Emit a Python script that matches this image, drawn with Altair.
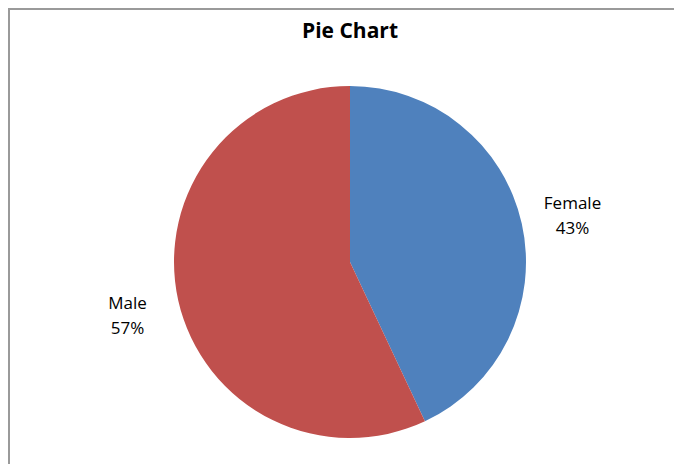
import altair as alt
import pandas as pd

categories = ["Female", "Male"]
values = [43, 57]
colors = ["#4F81BD", "#C0504D"]
chart_title = "Pie Chart"

df = pd.DataFrame({
    "category": categories,
    "value": values,
    "order": list(range(len(categories))),
})
df["label"] = [f"{c}\n{v}%" for c, v in zip(categories, values)]

W, H = 666, 456
CX, CY = 342, 254

base = alt.Chart(df).encode(
    theta=alt.Theta("value:Q", stack=True),
    order=alt.Order("order:Q"),
)

pie = base.mark_arc(radius=176, stroke=None).encode(
    color=alt.Color("category:N", scale=alt.Scale(domain=categories, range=colors), legend=None),
    x=alt.value(CX),
    y=alt.value(CY),
)

labels = base.mark_text(
    radius=228, font="Open Sans", fontSize=17, color="#000000",
    lineBreak="\n", baseline="middle", align="center", dy=-8, lineHeight=25,
).encode(
    text="label:N",
    x=alt.value(CX),
    y=alt.value(CY),
)

title = alt.Chart(pd.DataFrame({"t": [chart_title]})).mark_text(
    font="Open Sans", fontSize=21, fontWeight="bold", color="#000000",
    baseline="middle", align="center",
).encode(text="t:N", x=alt.value(342), y=alt.value(24))

top_line = alt.Chart(pd.DataFrame({"a": [0]})).mark_rule(color="#9a9a9a", strokeWidth=2).encode(
    x=alt.value(0), x2=alt.value(W), y=alt.value(1)
)
left_line = alt.Chart(pd.DataFrame({"a": [0]})).mark_rule(color="#9a9a9a", strokeWidth=2).encode(
    x=alt.value(1), y=alt.value(0), y2=alt.value(H)
)

chart = alt.layer(pie, labels, title, top_line, left_line).properties(
    width=W, height=H, padding=0, autosize=alt.AutoSizeParams(type="none")
).configure_view(stroke=None)

chart.save("out.html", embed_options={"renderer": "svg", "actions": False})
